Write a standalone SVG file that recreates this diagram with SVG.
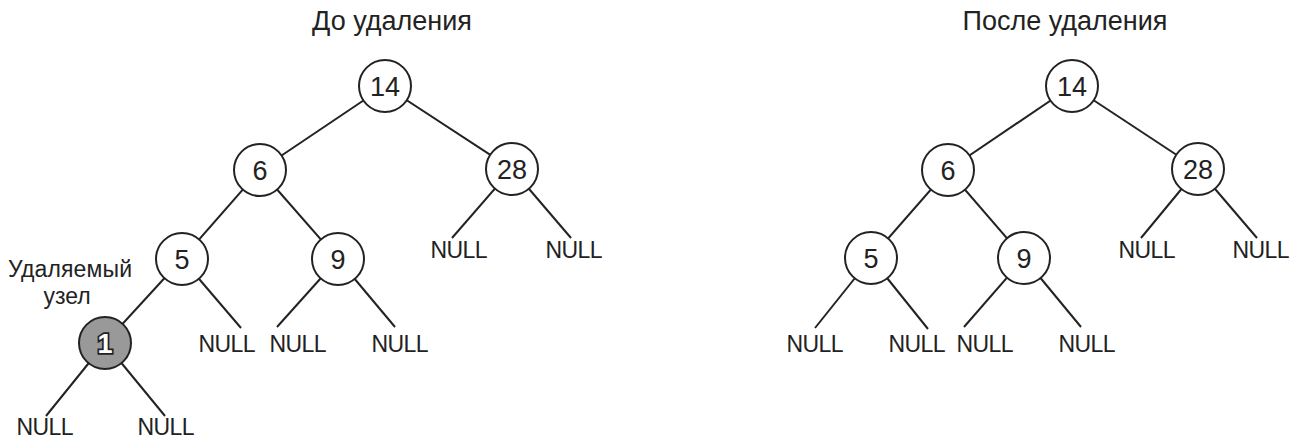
<svg xmlns="http://www.w3.org/2000/svg" width="1305" height="443" viewBox="0 0 1305 443">
<style>
text{font-family:"Liberation Sans",Arial,sans-serif;fill:#222;text-anchor:middle}
.t{font-size:27px}
.n{font-size:23px}
.v{font-size:27px}
.c{fill:#fff;stroke:#222;stroke-width:2}
.g{fill:#999;stroke:#222;stroke-width:2}
.e line{stroke:#222;stroke-width:2}
.w{fill:#fff;stroke:#222;stroke-width:3.5;paint-order:stroke;font-weight:bold}
</style>
<rect width="1305" height="443" fill="#fff"/>
<text class="t" x="392" y="30">До удаления</text>
<text class="t" x="1065" y="30">После удаления</text>
<g class="e" id="connectors">
<line x1="385" y1="86" x2="260" y2="170"/>
<line x1="385" y1="86" x2="512" y2="169"/>
<line x1="260" y1="170" x2="182" y2="259"/>
<line x1="260" y1="170" x2="338" y2="259"/>
<line x1="512" y1="169" x2="452" y2="238"/>
<line x1="512" y1="169" x2="571" y2="238"/>
<line x1="182" y1="259" x2="105" y2="343"/>
<line x1="182" y1="259" x2="241" y2="328"/>
<line x1="338" y1="259" x2="277" y2="327"/>
<line x1="338" y1="259" x2="395" y2="327"/>
<line x1="105" y1="343" x2="46" y2="416"/>
<line x1="105" y1="343" x2="165" y2="416"/>
<line x1="1072" y1="86" x2="948" y2="170"/>
<line x1="1072" y1="86" x2="1198" y2="169"/>
<line x1="948" y1="170" x2="871" y2="258"/>
<line x1="948" y1="170" x2="1024" y2="258"/>
<line x1="1198" y1="169" x2="1141" y2="238"/>
<line x1="1198" y1="169" x2="1257" y2="238"/>
<line x1="871" y1="258" x2="815" y2="328"/>
<line x1="871" y1="258" x2="928" y2="329"/>
<line x1="1024" y1="258" x2="964" y2="327"/>
<line x1="1024" y1="258" x2="1081" y2="327"/>
</g>
<g id="L14"><circle class="c" cx="385" cy="86" r="26"/><text class="v" x="385" y="96">14</text></g>
<g id="L6"><circle class="c" cx="260" cy="170" r="26"/><text class="v" x="260" y="180">6</text></g>
<g id="L28"><circle class="c" cx="512" cy="169" r="26"/><text class="v" x="512" y="179">28</text></g>
<g id="L5"><circle class="c" cx="182" cy="259" r="26"/><text class="v" x="182" y="269">5</text></g>
<g id="L9"><circle class="c" cx="338" cy="259" r="26"/><text class="v" x="338" y="269">9</text></g>
<g id="L1"><circle class="g" cx="105" cy="343" r="26"/><text class="v w" x="105" y="353">1</text></g>
<g id="Lnull">
<text class="n" x="459" y="258" textLength="57">NULL</text>
<text class="n" x="574" y="258" textLength="57">NULL</text>
<text class="n" x="227" y="352" textLength="57">NULL</text>
<text class="n" x="298" y="352" textLength="57">NULL</text>
<text class="n" x="400" y="352" textLength="57">NULL</text>
<text class="n" x="45" y="435" textLength="57">NULL</text>
<text class="n" x="166" y="435" textLength="57">NULL</text>
</g>
<g id="label"><text class="n" x="70" y="277" textLength="124">Удаляемый</text><text class="n" x="67" y="304">узел</text></g>
<g id="R14"><circle class="c" cx="1072" cy="86" r="26"/><text class="v" x="1072" y="96">14</text></g>
<g id="R6"><circle class="c" cx="948" cy="170" r="26"/><text class="v" x="948" y="180">6</text></g>
<g id="R28"><circle class="c" cx="1198" cy="169" r="26"/><text class="v" x="1198" y="179">28</text></g>
<g id="R5"><circle class="c" cx="871" cy="258" r="26"/><text class="v" x="871" y="268">5</text></g>
<g id="R9"><circle class="c" cx="1024" cy="258" r="26"/><text class="v" x="1024" y="268">9</text></g>
<g id="Rnull">
<text class="n" x="1147" y="258" textLength="57">NULL</text>
<text class="n" x="1261" y="258" textLength="57">NULL</text>
<text class="n" x="815" y="352" textLength="57">NULL</text>
<text class="n" x="917" y="352" textLength="57">NULL</text>
<text class="n" x="985" y="352" textLength="57">NULL</text>
<text class="n" x="1087" y="352" textLength="57">NULL</text>
</g>
</svg>
